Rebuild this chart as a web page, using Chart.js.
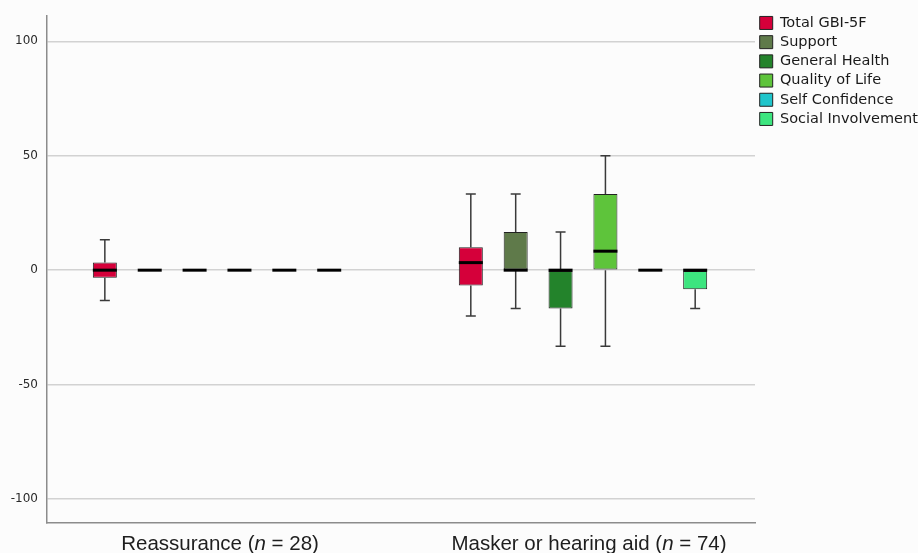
<!DOCTYPE html>
<html>
<head>
<meta charset="utf-8">
<script src="https://cdn.jsdelivr.net/npm/chart.js@4/dist/chart.umd.min.js"></script>
<style>
  html, body { margin: 0; padding: 0; background: #fcfcfc; }
  #wrap { width: 918px; height: 553px; position: relative; }
</style>
</head>
<body>
<div id="wrap"><canvas id="chart"></canvas></div>
<script>
// Groups on the x axis and their sample sizes
const groups = ['Reassurance', 'Masker or hearing aid'];
const groupN = [28, 74];

// Series (GBI subscales) and their fill colours
const seriesNames = ['Total GBI-5F', 'Support', 'General Health', 'Quality of Life', 'Self Confidence', 'Social Involvement'];
const seriesColors = ['#d5003a', '#5f7a4a', '#23832b', '#5ec43b', '#1fc5cb', '#3de57f'];

// Five-number summaries per group: [lower whisker, Q1, median, Q3, upper whisker]
const totalGbi          = [[-13.3, -3.3, 0, 3.3, 13.3], [-20, -6.7, 3.3, 10, 33.3]];
const support           = [[0, 0, 0, 0, 0],             [-16.7, 0, 0, 16.7, 33.3]];
const generalHealth     = [[0, 0, 0, 0, 0],             [-33.3, -16.7, 0, 0, 16.7]];
const qualityOfLife     = [[0, 0, 0, 0, 0],             [-33.3, 0, 8.3, 33.3, 50]];
const selfConfidence    = [[0, 0, 0, 0, 0],             [0, 0, 0, 0, 0]];
const socialInvolvement = [[0, 0, 0, 0, 0],             [-16.7, -8.3, 0, 0, 0]];

const seriesStats = [totalGbi, support, generalHealth, qualityOfLife, selfConfidence, socialInvolvement];

// Y axis tick values
const yTicks = [-100, -50, 0, 50, 100];

const datasets = seriesNames.map((name, si) => ({
  label: name,
  backgroundColor: seriesColors[si],
  borderColor: '#222',
  borderWidth: 1,
  borderSkipped: false,
  categoryPercentage: 0.7357,
  barPercentage: 0.535,
  data: seriesStats[si].map((s, gi) => ({ x: gi, y: [s[1], s[3]], stats: s }))
}));

// Whiskers (behind the boxes) and medians (on top of the boxes)
const boxplotParts = {
  id: 'boxplotParts',
  beforeDatasetsDraw(chart) {
    const ctx = chart.ctx;
    const ys = chart.scales.y;
    ctx.save();
    ctx.strokeStyle = '#3a3a3a';
    ctx.lineWidth = 1.5;
    chart.data.datasets.forEach((ds, i) => {
      const meta = chart.getDatasetMeta(i);
      meta.data.forEach((bar, j) => {
        const s = ds.data[j].stats;
        const x = bar.x;
        const cap = 5;
        const seg = (a, b) => {
          if (a === b) return;
          const pa = ys.getPixelForValue(a), pb = ys.getPixelForValue(b);
          ctx.beginPath();
          ctx.moveTo(x, pa); ctx.lineTo(x, pb);
          ctx.moveTo(x - cap, pb); ctx.lineTo(x + cap, pb);
          ctx.stroke();
        };
        seg(s[3], s[4]);
        seg(s[1], s[0]);
      });
    });
    ctx.restore();
  },
  afterDatasetsDraw(chart) {
    const ctx = chart.ctx;
    const ys = chart.scales.y;
    ctx.save();
    ctx.strokeStyle = '#000';
    ctx.lineWidth = 3;
    chart.data.datasets.forEach((ds, i) => {
      const meta = chart.getDatasetMeta(i);
      meta.data.forEach((bar, j) => {
        const s = ds.data[j].stats;
        const py = ys.getPixelForValue(s[2]);
        ctx.beginPath();
        ctx.moveTo(bar.x - bar.width / 2, py);
        ctx.lineTo(bar.x + bar.width / 2, py);
        ctx.stroke();
      });
    });
    ctx.restore();
  }
};

// Group labels under the x axis, with an italic "n"
const groupLabels = {
  id: 'groupLabels',
  afterDraw(chart) {
    const ctx = chart.ctx;
    const xs = chart.scales.x;
    const size = 20.5;
    const fam = '"Liberation Sans", Arial, sans-serif';
    const yPos = chart.chartArea.bottom + 27;
    const shift = [3, 6];
    ctx.save();
    ctx.fillStyle = '#1e1e1e';
    ctx.textBaseline = 'alphabetic';
    ctx.textAlign = 'left';
    groups.forEach((g, i) => {
      const parts = [
        [g + ' (', 'normal'],
        ['n', 'italic'],
        [' = ' + groupN[i] + ')', 'normal']
      ];
      let total = 0;
      parts.forEach(p => { ctx.font = p[1] + ' ' + size + 'px ' + fam; total += ctx.measureText(p[0]).width; });
      let x = xs.getPixelForValue(i) + shift[i] - total / 2;
      parts.forEach(p => {
        ctx.font = p[1] + ' ' + size + 'px ' + fam;
        ctx.fillText(p[0], x, yPos);
        x += ctx.measureText(p[0]).width;
      });
    });
    ctx.restore();
  }
};

// Nudge the legend up slightly
const legendNudge = {
  id: 'legendNudge',
  afterLayout(chart) {
    if (chart.legend) { chart.legend.top -= 2; chart.legend.bottom -= 2; }
  }
};

// Off-white background
const bg = {
  id: 'bg',
  beforeDraw(chart) {
    const ctx = chart.ctx;
    ctx.save();
    ctx.fillStyle = '#fcfcfc';
    ctx.fillRect(0, 0, chart.width, chart.height);
    ctx.restore();
  }
};

new Chart(document.getElementById('chart'), {
  type: 'bar',
  data: { datasets },
  options: {
    responsive: true,
    maintainAspectRatio: false,
    animation: false,
    layout: { padding: { top: 13, left: 0, right: 0, bottom: 0 } },
    plugins: {
      legend: {
        position: 'right',
        align: 'start',
        maxWidth: 163,
        labels: {
          boxWidth: 13,
          boxHeight: 13,
          padding: 4.7,
          color: '#1a1a1a',
          font: { family: '"DejaVu Sans", sans-serif', size: 14.5 }
        }
      },
      tooltip: { enabled: false }
    },
    scales: {
      x: {
        type: 'linear',
        offset: false,
        min: -0.4646,
        max: 1.47,
        afterBuildTicks(scale) { scale.ticks = groups.map((g, i) => ({ value: i })); },
        afterFit(scale) { scale.height = 30; },
        ticks: { display: false },
        grid: { display: false, drawTicks: false, offset: false },
        border: { display: true, color: '#8c8c8c', width: 1.5 }
      },
      y: {
        min: -110.5,
        max: 111,
        afterBuildTicks(scale) { scale.ticks = yTicks.map(v => ({ value: v })); },
        afterFit(scale) { scale.width = 47; },
        ticks: {
          padding: 9,
          color: '#2a2a2a',
          font: { family: '"DejaVu Sans", sans-serif', size: 12 }
        },
        grid: { color: '#d2d2d2', lineWidth: 1.5, drawTicks: false },
        border: { display: true, color: '#8c8c8c', width: 1.5 }
      }
    }
  },
  plugins: [bg, boxplotParts, groupLabels, legendNudge]
});
</script>
</body>
</html>
